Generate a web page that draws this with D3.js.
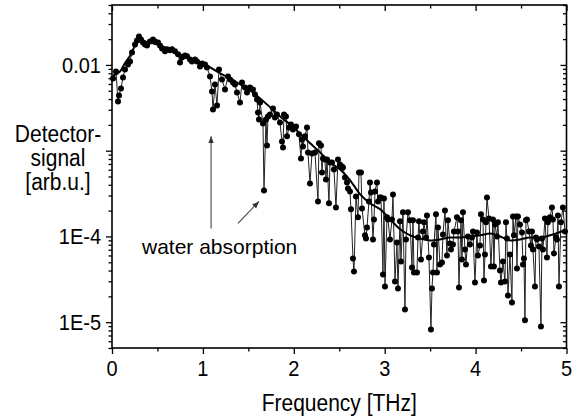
<!DOCTYPE html>
<html><head><meta charset="utf-8">
<script src="https://cdn.jsdelivr.net/npm/d3@7"></script>
<style>
html,body{margin:0;padding:0;background:#fff;}
svg{display:block;font-family:"Liberation Sans",Arial,sans-serif;}
</style></head>
<body><svg id="c" width="579" height="416"></svg>
<script>
const freq = [0.011,0.044,0.066,0.077,0.099,0.121,0.143,0.176,0.198,0.220,0.253,0.275,0.297,0.319,0.341,0.363,0.385,0.418,0.451,0.473,0.506,0.528,0.550,0.583,0.605,0.638,0.660,0.693,0.726,0.748,0.770,0.803,0.825,0.858,0.880,0.913,0.935,0.968,0.990,1.023,1.045,1.078,1.100,1.111,1.133,1.155,1.177,1.210,1.243,1.276,1.298,1.331,1.353,1.375,1.408,1.430,1.463,1.485,1.518,1.551,1.573,1.595,1.606,1.617,1.628,1.661,1.672,1.694,1.705,1.716,1.738,1.771,1.793,1.815,1.848,1.870,1.881,1.892,1.914,1.925,1.947,1.969,1.991,2.024,2.057,2.079,2.090,2.101,2.123,2.145,2.156,2.178,2.200,2.233,2.266,2.277,2.299,2.310,2.321,2.343,2.354,2.365,2.387,2.398,2.420,2.442,2.464,2.486,2.508,2.530,2.541,2.563,2.585,2.596,2.618,2.629,2.651,2.662,2.684,2.706,2.717,2.739,2.750,2.783,2.794,2.805,2.827,2.838,2.849,2.871,2.882,2.893,2.915,2.926,2.948,2.959,2.981,2.992,3.003,3.025,3.036,3.058,3.080,3.091,3.113,3.135,3.146,3.168,3.179,3.201,3.223,3.234,3.256,3.278,3.300,3.311,3.322,3.355,3.366,3.377,3.399,3.421,3.432,3.454,3.465,3.487,3.509,3.520,3.531,3.542,3.564,3.575,3.586,3.608,3.630,3.641,3.663,3.685,3.696,3.718,3.729,3.751,3.762,3.795,3.806,3.817,3.839,3.850,3.861,3.883,3.894,3.916,3.938,3.960,3.971,3.993,4.015,4.026,4.048,4.059,4.081,4.092,4.103,4.114,4.125,4.147,4.169,4.191,4.202,4.213,4.235,4.246,4.268,4.279,4.301,4.323,4.334,4.345,4.356,4.378,4.400,4.411,4.422,4.444,4.455,4.466,4.488,4.510,4.521,4.532,4.543,4.554,4.565,4.587,4.609,4.620,4.631,4.653,4.664,4.675,4.697,4.719,4.730,4.741,4.763,4.785,4.796,4.818,4.840,4.851,4.862,4.884,4.895,4.906,4.917,4.939,4.961,4.983];
const signal = [6.96e-3,8.40e-3,3.75e-3,4.41e-3,5.32e-3,7.15e-3,8.87e-3,1.01e-2,1.10e-2,1.40e-2,1.73e-2,1.93e-2,2.15e-2,1.98e-2,1.83e-2,1.73e-2,1.69e-2,1.88e-2,1.98e-2,1.88e-2,1.83e-2,1.69e-2,1.56e-2,1.44e-2,1.52e-2,1.48e-2,1.52e-2,1.44e-2,1.33e-2,1.07e-2,1.22e-2,1.29e-2,1.26e-2,1.16e-2,1.10e-2,1.16e-2,1.10e-2,9.6e-3,1.04e-2,1.01e-2,9.35e-3,7.34e-3,4.91e-3,3.03e-3,5.92e-3,3.37e-3,8.87e-3,6.77e-3,5.18e-3,7.34e-3,6.77e-3,6.25e-3,5.92e-3,4.78e-3,3.65e-3,6.25e-3,5.47e-3,4.78e-3,5.47e-3,5.18e-3,4.53e-3,3.96e-3,2.79e-3,2.31e-3,3.65e-3,2.08e-3,3.44e-4,2.31e-3,1.15e-3,2.51e-3,2.65e-3,3.11e-3,2.44e-3,2.65e-3,2.13e-3,1.28e-3,1.09e-3,2.65e-3,2.51e-3,1.47e-3,1.87e-3,2.02e-3,1.77e-3,1.92e-3,1.55e-3,8.13e-4,1.35e-3,1.12e-3,1.47e-3,1.87e-3,9.55e-4,4.15e-4,9.29e-4,9.55e-4,2.56e-4,1.22e-3,1.15e-3,5.58e-4,8.13e-4,7.91e-4,4.62e-4,7.91e-4,2.43e-4,7.30e-4,7.30e-4,6.04e-4,2.18e-4,7.91e-4,6.91e-4,6.55e-4,6.38e-4,4.88e-4,4.27e-4,3.63e-4,3.35e-4,2.07e-4,5.53e-5,3.91e-5,2.93e-4,1.67e-4,5.58e-4,5.58e-4,2.12e-4,1.03e-4,9.48e-5,1.27e-4,2.56e-4,4.27e-4,3.26e-4,9.23e-5,1.58e-4,3.35e-4,4.27e-4,2.56e-4,2.85e-4,2.85e-4,3.60e-5,2.77e-4,2.61e-5,1.67e-4,1.58e-4,9.23e-5,1.58e-4,3.09e-4,2.99e-5,8.51e-5,2.47e-5,1.50e-4,5.11e-5,1.91e-4,1.41e-5,9.23e-5,1.91e-4,1.54e-4,4.35e-5,1.54e-4,3.80e-5,3.80e-5,9.73e-5,1.50e-4,5.39e-5,1.14e-4,1.46e-4,9.73e-5,1.76e-4,5.69e-5,8.2e-6,2.47e-5,3.80e-5,8.07e-5,1.81e-4,3.80e-5,1.27e-4,4.71e-5,4.97e-5,1.05e-4,2.01e-4,6.00e-5,1.54e-4,8.28e-5,7.05e-5,8.07e-5,1.14e-4,1.67e-4,1.14e-4,2.54e-5,1.54e-4,5.39e-5,1.91e-4,7.05e-5,4.71e-5,1.00e-4,8.07e-5,9.73e-5,1.14e-4,2.91e-5,1.11e-4,6.00e-5,7.85e-5,1.81e-4,1.58e-4,3.07e-5,6.17e-5,1.46e-4,2.85e-4,1.62e-4,4.47e-5,1.58e-4,4.47e-5,1.38e-4,1.00e-4,1.46e-4,4.01e-5,2.91e-5,5.11e-5,2.99e-5,1.46e-4,9.48e-5,2.05e-5,6.17e-5,1.70e-5,1.71e-4,1.03e-4,1.71e-4,4.23e-5,1.71e-4,1.38e-4,1.11e-4,4.71e-5,5.53e-5,1.05e-5,1.54e-4,1.58e-4,1.14e-4,7.85e-5,1.14e-4,7.05e-5,2.61e-5,9.73e-5,9.23e-5,7.64e-5,8.9e-6,9.48e-5,7.05e-5,1.62e-4,5.69e-5,1.46e-4,1.67e-4,2.18e-4,1.58e-4,6.34e-5,9.73e-5,9.23e-5,1.76e-4,2.61e-5,1.46e-4,2.18e-4,1.14e-4];
const fitFreq = [0.01,0.09,0.14,0.2,0.25,0.3,0.36,0.42,0.53,0.64,0.75,0.86,0.97,1.08,1.19,1.3,1.41,1.52,1.63,1.74,1.85,1.96,2.07,2.18,2.29,2.4,2.51,2.62,2.73,2.84,2.95,3.06,3.17,3.28,3.39,3.5,3.61,3.72,3.83,3.94,4.05,4.16,4.27,4.38,4.49,4.6,4.71,4.82,4.98];
const fitSignal = [7.53e-3,8.40e-3,1.04e-2,1.29e-2,1.64e-2,1.88e-2,1.88e-2,1.83e-2,1.69e-2,1.52e-2,1.33e-2,1.19e-2,1.07e-2,9.35e-3,7.96e-3,6.96e-3,5.92e-3,5.04e-3,4.07e-3,3.20e-3,2.51e-3,2.02e-3,1.58e-3,1.22e-3,9.55e-4,7.30e-4,6.04e-4,4.52e-4,3.09e-4,2.43e-4,2.07e-4,1.58e-4,1.21e-4,1.03e-4,9.48e-5,8.99e-5,9.23e-5,9.73e-5,9.73e-5,1.00e-4,1.03e-4,1.08e-4,1.00e-4,8.99e-5,9.23e-5,9.73e-5,9.73e-5,1.03e-4,1.18e-4];
const xTickValues = [0,1,2,3,4,5];
const yLabelValues = [0.01, 1e-4, 1e-5];
const yLabelText = ["0.01", "1E-4", "1E-5"];
const xTitle = "Frequency [THz]";
const yTitle = ["Detector-", "signal", "[arb.u.]"];
const annoText = "water absorption";
const annoTextPos = [0.33, 6.17e-5];
const arrows = [
  {from:[1.09, 1.24e-4], to:[1.09, 1.47e-3]},
  {from:[1.386, 1.42e-4], to:[1.617, 2.56e-4]}
];

const svg = d3.select("#c");
const L = 112, R = 566.5, T = 5, B = 348;
const x = d3.scaleLinear().domain([0,5]).range([L,R]);
const y = d3.scaleLog().domain([5e-6, 0.05]).range([B,T]);
const FONT = "Liberation Sans, Arial, sans-serif";

const defs = svg.append("defs");
defs.append("marker").attr("id","ah").attr("viewBox","0 0 10 10")
  .attr("refX",10).attr("refY",5).attr("markerWidth",7).attr("markerHeight",7)
  .attr("markerUnits","userSpaceOnUse").attr("orient","auto")
  .append("path").attr("d","M0,1 L10,5 L0,9 Z").attr("fill","#333");

// stretched text helper (reference text is taller than it is wide)
function stext(g, px, py, str, size, anchor, sy){
  return g.append("text").attr("transform", `translate(${px},${py}) scale(1,${sy})`)
    .attr("text-anchor", anchor).attr("font-size", size).attr("font-family", FONT)
    .attr("fill","#000").text(str);
}

// ticks
const allY = y.ticks();
const majorY = allY.filter(v => Math.abs(Math.log10(v) - Math.round(Math.log10(v))) < 1e-9);
const minorY = allY.filter(v => !majorY.includes(v));
const minorX = d3.range(0.5, 5, 1);

function axisGroup(axis, tr){
  const g = svg.append("g").attr("transform", tr).call(axis);
  g.select(".domain").remove();
  g.selectAll(".tick line").attr("stroke","#000").attr("stroke-width",1.3);
  g.selectAll(".tick text").remove();
  return g;
}
axisGroup(d3.axisLeft(y).tickValues(minorY).tickSize(3.5), `translate(${L},0)`);
axisGroup(d3.axisLeft(y).tickValues(majorY).tickSize(6), `translate(${L},0)`);
axisGroup(d3.axisLeft(y).tickValues(minorY).tickSize(3.5), `translate(${R},0)`);
axisGroup(d3.axisLeft(y).tickValues(majorY).tickSize(6), `translate(${R},0)`);
axisGroup(d3.axisBottom(x).tickValues(minorX).tickSize(3.5), `translate(0,${B})`);
axisGroup(d3.axisBottom(x).tickValues(xTickValues).tickSize(6), `translate(0,${B})`);
axisGroup(d3.axisBottom(x).tickValues(minorX).tickSize(3.5), `translate(0,${T})`);
axisGroup(d3.axisBottom(x).tickValues(xTickValues).tickSize(6), `translate(0,${T})`);

// tick labels
const labels = svg.append("g");
xTickValues.forEach(v => stext(labels, x(v), 376, d3.format("d")(v), 20, "middle", 1.12));
yLabelValues.forEach((v,i) => stext(labels, 101, y(v) + 8, yLabelText[i], 20, "end", 1.12));

// frame
svg.append("rect").attr("x",L).attr("y",T).attr("width",R-L).attr("height",B-T)
  .attr("fill","none").attr("stroke","#000").attr("stroke-width",1.6);

// data line
const pts = freq.map((f,i)=>[f, signal[i]]);
svg.append("path").datum(pts)
  .attr("d", d3.line().x(d=>x(d[0])).y(d=>y(d[1])))
  .attr("fill","none").attr("stroke","#222").attr("stroke-width",1);
// fit curve
const fitPts = fitFreq.map((f,i)=>[f, fitSignal[i]]);
svg.append("path").datum(fitPts)
  .attr("d", d3.line().curve(d3.curveMonotoneX).x(d=>x(d[0])).y(d=>y(d[1])))
  .attr("fill","none").attr("stroke","#000").attr("stroke-width",2);
// dots
svg.append("g").selectAll("circle").data(pts).join("circle")
  .attr("cx", d=>x(d[0])).attr("cy", d=>y(d[1])).attr("r", 3).attr("fill","#000");

// titles
stext(svg, (L+R)/2, 411, xTitle, 21, "middle", 1.15);
const yt = svg.append("g");
yTitle.forEach((s,i) => stext(yt, 58, 142 + i*24, s, 21, "middle", 1.12));

// annotation
svg.append("text").attr("x",x(annoTextPos[0])).attr("y",y(annoTextPos[1]))
  .attr("font-size",21).attr("font-family",FONT).text(annoText);
svg.append("g").selectAll("line").data(arrows).join("line")
  .attr("x1",d=>x(d.from[0])).attr("y1",d=>y(d.from[1]))
  .attr("x2",d=>x(d.to[0])).attr("y2",d=>y(d.to[1]))
  .attr("stroke","#444").attr("stroke-width",1.1).attr("marker-end","url(#ah)");
</script></body></html>
